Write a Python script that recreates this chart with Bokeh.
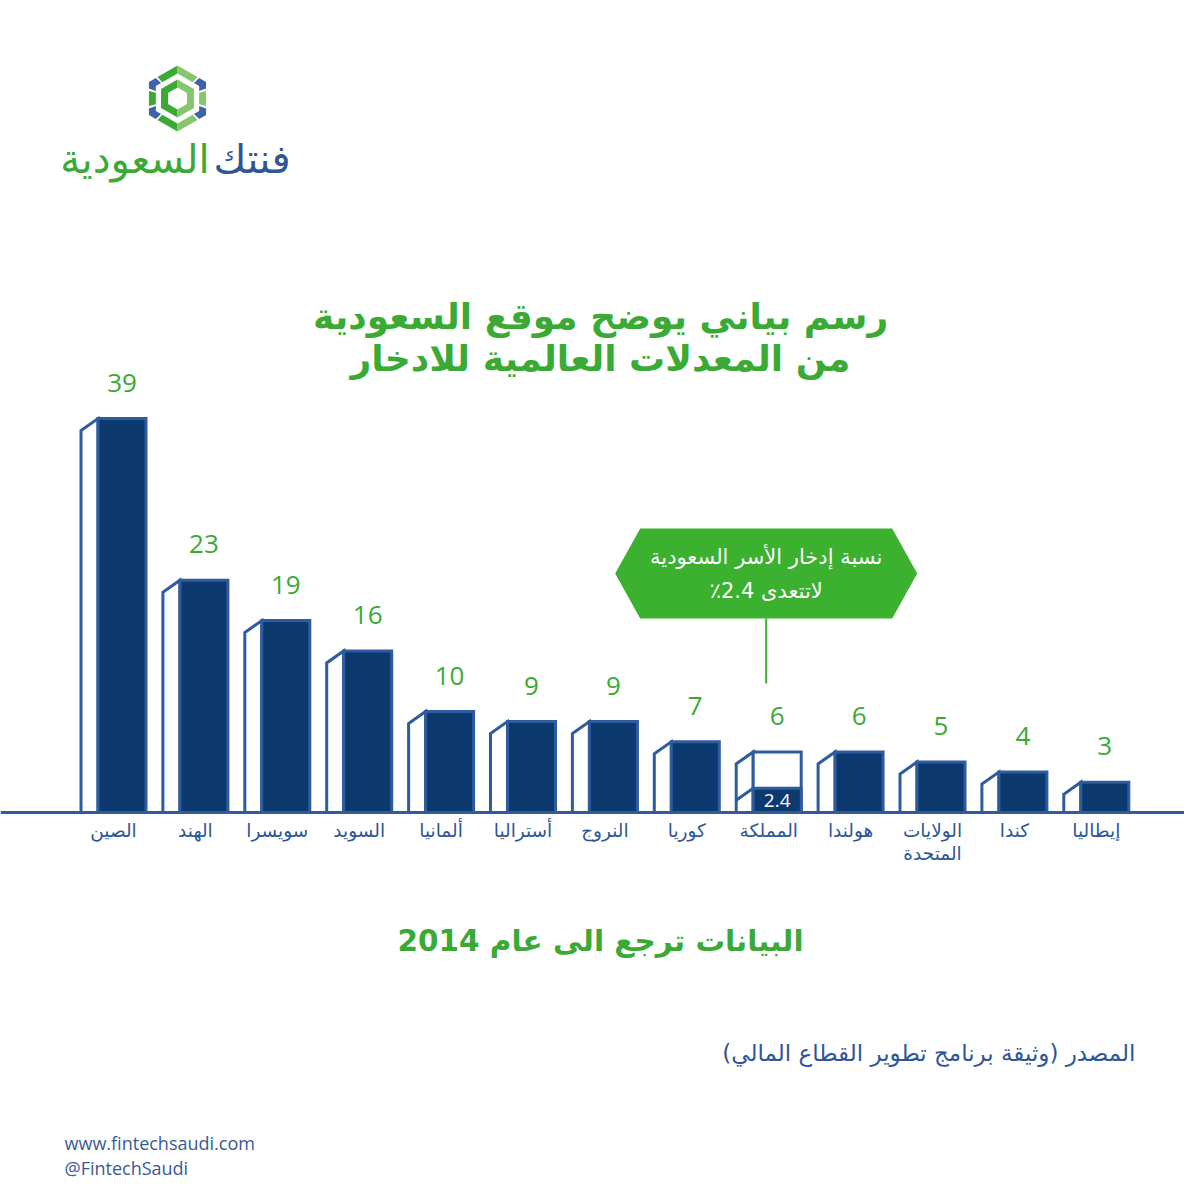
from bokeh.plotting import figure
from bokeh.models import Range1d
from bokeh.core.properties import value
from bokeh.embed import file_html
from bokeh.resources import INLINE
import math

# ---------------- data ----------------
countries = ["الصين", "الهند", "سويسرا", "السويد", "ألمانيا", "أستراليا", "النروج",
             "كوريا", "المملكة", "هولندا", "الولايات\nالمتحدة", "كندا", "إيطاليا"]
rates = [39, 23, 19, 16, 10, 9, 9, 7, 6, 6, 5, 4, 3]
saudi_name = "المملكة"
saudi_household = 2.4
title_lines = ["رسم بياني يوضح موقع السعودية", "من المعدلات العالمية للادخار"]
callout_lines = ["نسبة إدخار الأسر السعودية", "لاتتعدى 2.4٪"]
note_text = "البيانات ترجع الى عام 2014"
source_text = "المصدر (وثيقة برنامج تطوير القطاع المالي)"
web_lines = ["www.fintechsaudi.com", "@FintechSaudi"]
logo_words = ["فنتك", "السعودية"]

# ---------------- style ----------------
GREEN = "#3aaa35"
GREEN_L = "#86c66f"
BLUE = "#2f5b9f"
NAVY = "#0d3a6e"
TXT_BLUE = "#2e5597"
AR = value("DejaVu Sans")
LAT = value("Open Sans")
RLE, PDF = "\u202b", "\u202c"

W = H = 1184
X0, PX = 121.5, 81.9      # first bar centre (px) / px per bar slot
BASE, KV = 812, 10.1      # baseline (px) / px per unit of value
BW, FW, FD = 48, 17, 12   # bar width, side face width, side face drop (px)

p = figure(width=W, height=H, output_backend="svg", toolbar_location=None,
           x_range=Range1d(0, W), y_range=Range1d(H, 0),
           x_axis_type=None, y_axis_type=None, min_border=0)
p.grid.visible = False
p.outline_line_color = None
p.background_fill_color = "white"
p.border_fill_color = "white"

p.extra_x_ranges = {"bx": Range1d((0 - X0) / PX, (W - X0) / PX)}
p.extra_y_ranges = {"by": Range1d((BASE - H) / KV, BASE / KV)}
B = dict(x_range_name="bx", y_range_name="by")

idx = list(range(len(countries)))
s_i = countries.index(saudi_name)
bw, fw, fd = BW / PX, FW / PX, FD / KV

# side faces
xs = [[i - bw / 2 - fw, i - bw / 2 - fw, i - bw / 2, i - bw / 2] for i in idx]
ys = [[0, v - fd, v, 0] for v in rates]
p.patches(xs, ys, fill_color="white", line_color=BLUE, line_width=3, line_join="miter", **B)

# front bars
others = [i for i in idx if i != s_i]
p.vbar(x=others, width=bw, top=[rates[i] for i in others], bottom=0,
       fill_color=NAVY, line_color=BLUE, line_width=3, line_join="miter", **B)
p.vbar(x=[s_i], width=bw, top=[rates[s_i]], bottom=0,
       fill_color="white", line_color=BLUE, line_width=3, line_join="miter", **B)
p.vbar(x=[s_i], width=bw, top=[saudi_household], bottom=0,
       fill_color=NAVY, line_color=BLUE, line_width=3, line_join="miter", **B)
p.segment(x0=[s_i - bw / 2 - fw], y0=[saudi_household - fd], x1=[s_i - bw / 2], y1=[saudi_household],
          line_color=BLUE, line_width=3, **B)
p.text(x=[s_i], y=[saudi_household / 2], text=[str(saudi_household)], text_color="white",
       text_font=LAT, text_font_size="19px", text_align="center", text_baseline="middle", **B)

# baseline
p.segment(x0=[(0 - X0) / PX], y0=[0], x1=[(W - X0) / PX], y1=[0], line_color=BLUE, line_width=3, **B)

# value labels
p.text(x=idx, y=rates, text=[str(v) for v in rates], y_offset=-36, text_color=GREEN,
       text_font=LAT, text_font_size="26px", text_align="center", text_baseline="middle", **B)

# category labels
line1 = [c.split("\n")[0] for c in countries]
line2 = [c.split("\n")[1] if "\n" in c else "" for c in countries]
cx = [i - (FW / 2) / PX for i in idx]
p.text(x=cx, y=[0] * len(idx), text=line1, y_offset=18, text_color=TXT_BLUE,
       text_font=AR, text_font_size="18.5px", text_align="center", text_baseline="middle", **B)
p.text(x=cx, y=[0] * len(idx), text=line2, y_offset=41, text_color=TXT_BLUE,
       text_font=AR, text_font_size="18.5px", text_align="center", text_baseline="middle", **B)

# title
p.text(x=[600, 600], y=[316, 358], text=title_lines, text_color=GREEN, text_font=AR,
       text_font_style="bold", text_font_size="36px", text_align="center", text_baseline="middle")

# callout
ccx = X0 + PX * s_i - 11
p.patch([ccx - 151, ccx - 126, ccx + 126, ccx + 151, ccx + 126, ccx - 126],
        [573, 528, 528, 573, 618, 618], fill_color="#3cb02f", line_color=None)
p.segment(x0=[ccx], y0=[618], x1=[ccx], y1=[683], line_color="#3cb02f", line_width=2)
p.text(x=[ccx, ccx], y=[556, 590], text=[RLE + t + PDF for t in callout_lines], text_color="white",
       text_font=AR, text_font_size="21px", text_align="center", text_baseline="middle")

# note and source
p.text(x=[600], y=[940], text=[RLE + note_text + PDF], text_color=GREEN, text_font=AR,
       text_font_style="bold", text_font_size="29.5px", text_align="center", text_baseline="middle")
p.text(x=[1135], y=[1052], text=[RLE + source_text + PDF], text_color=TXT_BLUE, text_font=AR,
       text_font_size="23px", text_align="right", text_baseline="middle")
p.text(x=[64, 64], y=[1142, 1167], text=web_lines, text_color="#3a5a95", text_font=LAT,
       text_font_size="18px", text_align="left", text_baseline="middle")

# logo
def hexpts(cx0, cy0, r):
    names = ["T", "UR", "LR", "Bt", "LL", "UL"]
    return {n: (cx0 + r * math.cos(math.radians(a)), cy0 + r * math.sin(math.radians(a)))
            for n, a in zip(names, [-90, -30, 30, 90, 150, 210])}
def lerp(a, b, t):
    return (a[0] + (b[0] - a[0]) * t, a[1] + (b[1] - a[1]) * t)
LX, LY = 177, 98
o, n = hexpts(LX, LY, 33), hexpts(LX, LY, 25)
pieces, cols = [], []
def add(pts, c):
    pieces.append(pts); cols.append(c)
add([lerp(o["UL"], o["T"], .3), o["T"], n["T"], lerp(n["UL"], n["T"], .3)], GREEN)
add([o["T"], lerp(o["T"], o["UR"], .7), lerp(n["T"], n["UR"], .7), n["T"]], GREEN_L)
add([lerp(o["LL"], o["Bt"], .3), o["Bt"], n["Bt"], lerp(n["LL"], n["Bt"], .3)], GREEN)
add([o["Bt"], lerp(o["Bt"], o["LR"], .7), lerp(n["Bt"], n["LR"], .7), n["Bt"]], GREEN_L)
add([lerp(o["UL"], o["LL"], .27), lerp(o["UL"], o["LL"], .73), lerp(n["UL"], n["LL"], .73), lerp(n["UL"], n["LL"], .27)], GREEN)
add([lerp(o["UR"], o["LR"], .27), lerp(o["UR"], o["LR"], .73), lerp(n["UR"], n["LR"], .73), lerp(n["UR"], n["LR"], .27)], GREEN_L)
for v, a, b in [("UL", "T", "LL"), ("UR", "T", "LR"), ("LL", "Bt", "UL"), ("LR", "Bt", "UR")]:
    add([lerp(o[v], o[a], .24), o[v], lerp(o[v], o[b], .2), lerp(n[v], n[b], .2), n[v], lerp(n[v], n[a], .24)], "#3d63a8")
io, ii = hexpts(LX, LY, 19), hexpts(LX, LY, 11)
add([io["T"], io["UL"], io["LL"], io["Bt"], ii["Bt"], ii["LL"], ii["UL"], ii["T"]], GREEN)
add([io["T"], io["UR"], io["LR"], io["Bt"], ii["Bt"], ii["LR"], ii["UR"], ii["T"]], GREEN_L)
p.patches([[q[0] for q in pc] for pc in pieces], [[q[1] for q in pc] for pc in pieces],
          fill_color=cols, line_color=None)
p.text(x=[290], y=[158], text=[logo_words[0]], text_color="#2e5597", text_font=AR,
       text_font_size="40px", text_align="right", text_baseline="middle")
p.text(x=[209], y=[158], text=[logo_words[1]], text_color=GREEN, text_font=AR,
       text_font_size="40px", text_align="right", text_baseline="middle")

open("out.html", "w").write(file_html(p, INLINE))
